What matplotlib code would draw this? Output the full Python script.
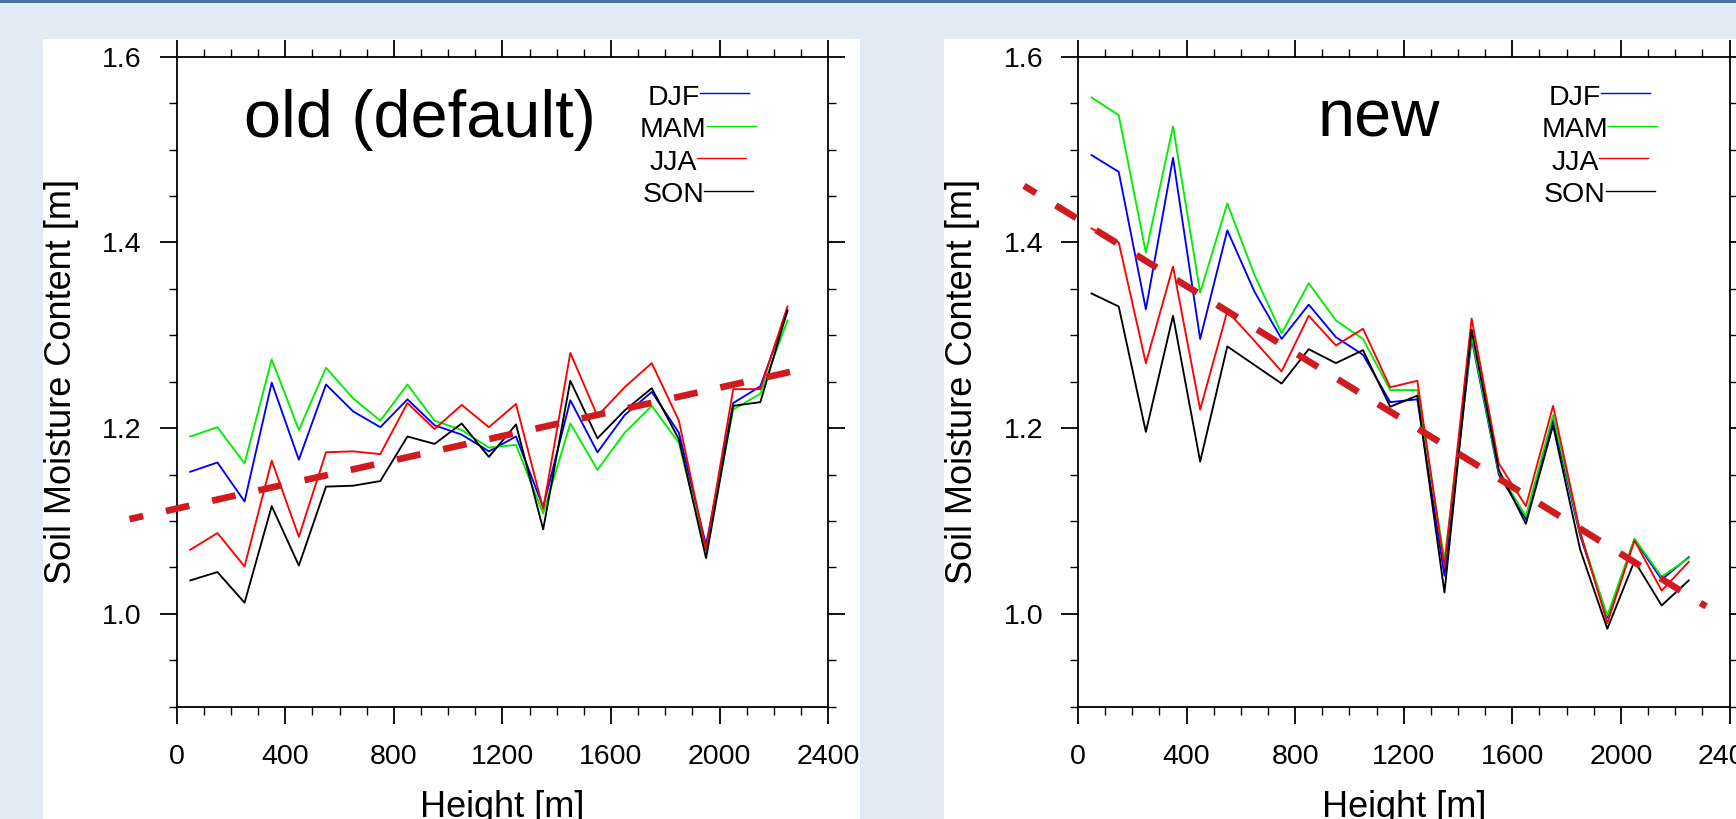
import matplotlib
matplotlib.use("Agg")
import matplotlib.pyplot as plt
from matplotlib.patches import Rectangle
from matplotlib.lines import Line2D
from matplotlib.ticker import MultipleLocator
import matplotlib.transforms as mtransforms

plt.rcParams["font.family"] = ["Liberation Sans", "DejaVu Sans"]

HEIGHTS = [50, 150, 250, 350, 450, 550, 650, 750, 850, 950, 1050, 1150,
           1250, 1350, 1450, 1550, 1650, 1750, 1850, 1950, 2050, 2150, 2250]
SEASONS = ["DJF", "MAM", "JJA", "SON"]
COLORS = ["#0000ff", "#00ee00", "#ff0000", "#000000"]

# old (default) run
OLD_DJF = [1.153, 1.163, 1.121, 1.249, 1.166, 1.247, 1.218, 1.201, 1.231, 1.203, 1.193, 1.175,
           1.191, 1.115, 1.230, 1.174, 1.214, 1.239, 1.195, 1.074, 1.227, 1.245, 1.326]
OLD_MAM = [1.191, 1.201, 1.162, 1.274, 1.198, 1.265, 1.232, 1.208, 1.247, 1.208, 1.198, 1.179,
           1.182, 1.108, 1.205, 1.155, 1.195, 1.224, 1.184, 1.068, 1.220, 1.237, 1.316]
OLD_JJA = [1.069, 1.087, 1.051, 1.165, 1.083, 1.174, 1.175, 1.172, 1.227, 1.199, 1.225, 1.201,
           1.226, 1.113, 1.281, 1.213, 1.244, 1.270, 1.208, 1.069, 1.242, 1.242, 1.331]
OLD_SON = [1.036, 1.045, 1.012, 1.116, 1.052, 1.137, 1.138, 1.143, 1.191, 1.183, 1.205, 1.169,
           1.204, 1.091, 1.251, 1.189, 1.219, 1.243, 1.188, 1.060, 1.224, 1.228, 1.327]
OLD_TREND_X = [-174, 2313]
OLD_TREND_Y = [1.102, 1.264]

# new run
NEW_DJF = [1.494, 1.476, 1.328, 1.491, 1.296, 1.413, 1.347, 1.296, 1.333, 1.298, 1.279, 1.228,
           1.231, 1.041, 1.296, 1.150, 1.102, 1.209, 1.084, 0.996, 1.080, 1.037, 1.061]
NEW_MAM = [1.556, 1.537, 1.389, 1.525, 1.346, 1.442, 1.365, 1.302, 1.356, 1.316, 1.296, 1.241,
           1.241, 1.058, 1.299, 1.153, 1.105, 1.214, 1.087, 0.998, 1.081, 1.040, 1.060]
NEW_JJA = [1.415, 1.400, 1.270, 1.374, 1.220, 1.326, 1.294, 1.261, 1.321, 1.289, 1.307, 1.244,
           1.251, 1.051, 1.318, 1.162, 1.116, 1.224, 1.088, 0.990, 1.079, 1.025, 1.056]
NEW_SON = [1.345, 1.331, 1.196, 1.321, 1.164, 1.288, 1.268, 1.248, 1.285, 1.270, 1.284, 1.223,
           1.235, 1.023, 1.306, 1.155, 1.097, 1.203, 1.069, 0.984, 1.057, 1.009, 1.036]
NEW_TREND_X = [-199, 2314]
NEW_TREND_Y = [1.461, 1.008]

W, H = 1736, 819
fig = plt.figure(figsize=(W / 100, H / 100), dpi=100, facecolor="#e2eaf4")

# page furniture: top bar and white panels (behind the axes)
for x0, y0, w, h, fc in [(0, H - 3, W, 3, "#4a72a2"),
                         (43, 0, 860 - 43, H - 39, "white"),
                         (944, 0, W - 944, H - 39, "white")]:
    fig.add_artist(Rectangle((x0 / W, y0 / H), w / W, h / H, transform=fig.transFigure,
                             facecolor=fc, edgecolor="none", zorder=-10))


def make_panel(left_px, series, trend_x, trend_y, title, title_x):
    ax = fig.add_axes([left_px / W, (H - 706.7) / H, 651.5 / W, 650 / H])
    for vals, c in zip(series, COLORS):
        ax.plot(HEIGHTS, vals, color=c, lw=1.35, zorder=3)
    ax.plot(trend_x, trend_y, color="#cf1b1f", lw=4.8, linestyle=(1.5, (3.6, 3.5)),
            solid_capstyle="butt", dash_capstyle="butt", clip_on=False, zorder=4)

    ax.set_xlim(0, 2400)
    ax.set_ylim(0.9, 1.6)
    ax.xaxis.set_major_locator(MultipleLocator(400))
    ax.xaxis.set_minor_locator(MultipleLocator(100))
    ax.yaxis.set_major_locator(MultipleLocator(0.2))
    ax.yaxis.set_minor_locator(MultipleLocator(0.05))
    ax.yaxis.set_major_formatter(matplotlib.ticker.FormatStrFormatter("%.1f"))
    ax.tick_params(which="both", direction="out", top=True, right=True, labelsize=20.5)
    ax.tick_params(which="major", length=12.2, width=1.3)
    ax.tick_params(which="minor", length=5.8, width=1.0)
    ax.tick_params(axis="x", which="major", pad=15)
    ax.tick_params(axis="y", which="major", pad=13)
    for sp in ax.spines.values():
        sp.set_linewidth(1.3)

    ax.set_xlabel("Height [m]", fontsize=26)
    ax.set_ylabel("Soil Moisture Content [m]", fontsize=26)
    ax.xaxis.set_label_coords(0.5, -0.128)
    ax.yaxis.set_label_coords(-0.15, 0.5)

    ax.text(title_x, 0.877, title, transform=ax.transAxes, fontsize=48,
            ha="center", va="baseline")

    # legend: centred labels, short line starting right after each label
    line_y = [0.9437, 0.8938, 0.8437, 0.7938]
    base = mtransforms.offset_copy(ax.transAxes, fig=fig, y=-8.4, units="points")
    texts = [ax.text(0.7625, yy, s, transform=base, fontsize=20.5, ha="center", va="baseline")
             for s, yy in zip(SEASONS, line_y)]
    return ax, texts, line_y


ax1, t1, ly1 = make_panel(176.7, [OLD_DJF, OLD_MAM, OLD_JJA, OLD_SON],
                          OLD_TREND_X, OLD_TREND_Y, "old (default)", 0.374)
ax2, t2, ly2 = make_panel(1078, [NEW_DJF, NEW_MAM, NEW_JJA, NEW_SON],
                          NEW_TREND_X, NEW_TREND_Y, "new", 0.462)

fig.canvas.draw()
renderer = fig.canvas.get_renderer()
for ax, texts, line_y in [(ax1, t1, ly1), (ax2, t2, ly2)]:
    inv = ax.transAxes.inverted()
    for t, yy, c in zip(texts, line_y, COLORS):
        x1 = t.get_window_extent(renderer).x1
        xa = inv.transform((x1, 0))[0]
        ax.add_line(Line2D([xa, xa + 49 / 651.5], [yy, yy], transform=ax.transAxes,
                           color=c, lw=1.0, clip_on=False))

fig.savefig("out.png", dpi=100, facecolor=fig.get_facecolor())
